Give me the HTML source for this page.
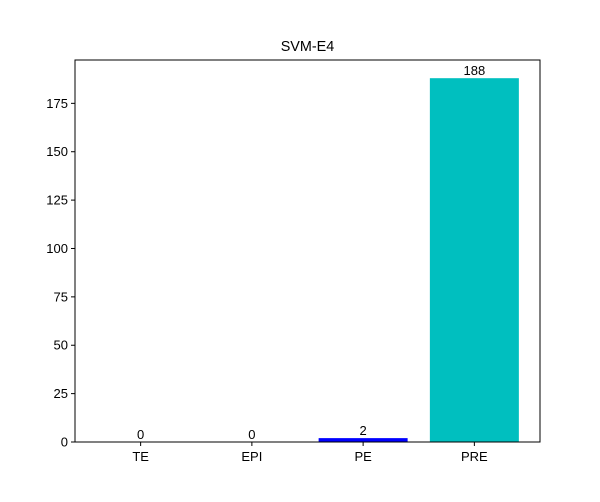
<!DOCTYPE html>
<html><head><meta charset="utf-8"><style>
body{margin:0;background:#fff}
svg text{font-family:"Liberation Sans","DejaVu Sans",sans-serif;fill:#000}
</style></head><body>
<svg id="chart" width="600" height="497">
<text x="307.5" y="51" font-size="14.4" text-anchor="middle">SVM-E4</text>
<g id="bars"></g><g id="ticks"></g>
<rect x="75" y="60" width="465" height="382" fill="none" stroke="#000" stroke-width="1"/>
</svg>
<script>
const categories=["TE","EPI","PE","PRE"];
const values=[0,0,2,188];
const colors=["#ff0000","#008000","#0000ff","#00bfbf"];
const yTicks=[0,25,50,75,100,125,150,175];
const L=75,R=540,T=60,B=442;
const xmin=-0.59,xmax=3.59,ymax=197.4;
const xs=v=>L+(v-xmin)/(xmax-xmin)*(R-L);
const ys=v=>B-v/ymax*(B-T);
const NS="http://www.w3.org/2000/svg";
const bars=document.getElementById('bars'),ticks=document.getElementById('ticks');
function mk(t,a,p){const e=document.createElementNS(NS,t);for(const k in a)e.setAttribute(k,a[k]);p.appendChild(e);return e;}
categories.forEach((c,i)=>{
 const x0=xs(i-0.4),x1=xs(i+0.4),y=ys(values[i]);
 const r=mk('rect',{x:x0,y:y,width:x1-x0,height:B-y,fill:colors[i]},bars);
 
 
 const lt=mk('text',{x:xs(i),y:y-3,'font-size':13,'text-anchor':'middle'},bars);lt.textContent=values[i];
 
 
 mk('line',{x1:xs(i),x2:xs(i),y1:B,y2:B+4,stroke:'#000'},ticks);
 const t=mk('text',{x:xs(i),y:B+19,'font-size':13,'text-anchor':'middle'},ticks);t.textContent=c;
 
 
});
yTicks.forEach(v=>{
 const y=ys(v);
 mk('line',{x1:L-4,x2:L,y1:y,y2:y,stroke:'#000'},ticks);
 const t=mk('text',{x:L-7,y:y+4.5,'font-size':13,'text-anchor':'end'},ticks);t.textContent=v;
 
 
});
</script>
</body></html>
